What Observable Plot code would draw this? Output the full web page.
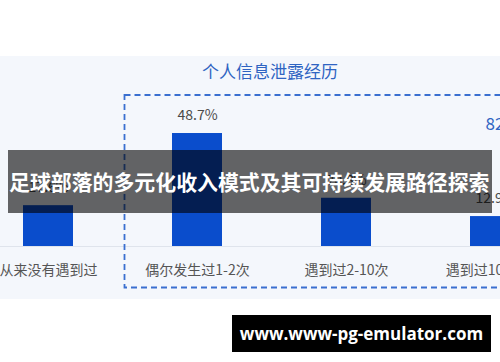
<!DOCTYPE html>
<html>
<head>
<meta charset="utf-8">
<script src="https://cdn.jsdelivr.net/npm/d3@7"></script>
<script src="https://cdn.jsdelivr.net/npm/@observablehq/plot@0.6"></script>
<style>
  html, body { margin: 0; padding: 0; background: #ffffff; }
  body { width: 500px; height: 362px; position: relative; overflow: hidden; font-family: "Noto Sans CJK SC", "Noto Sans", sans-serif; }
  #panel { position: absolute; left: 0; top: 56px; width: 500px; height: 243px; background: #f4f7fc; }
  #chart { position: absolute; left: 0; top: 0; }
  #title { position: absolute; left: 0; width: 540px; top: 60px; text-align: center; color: #2f64c2; font-size: 17px; line-height: 22px; }
  #banner { position: absolute; left: 8px; top: 150px; width: 484px; height: 63px; background: rgba(0,0,0,0.6); color: #fff; font-weight: bold; font-size: 20.9px; line-height: 63px; white-space: nowrap; overflow: hidden; text-align: left; padding-left: 1px; box-sizing: border-box; }
  #badge { position: absolute; left: 232px; top: 315px; width: 259px; height: 37px; background: #000; color: #fff; font-family: "Open Sans", "Noto Sans", sans-serif; font-weight: bold; font-size: 17px; line-height: 37px; text-align: center; white-space: nowrap; }
</style>
</head>
<body>
<div id="panel"></div>
<div id="title">个人信息泄露经历</div>
<div id="chart"></div>
<div id="banner">足球部落的多元化收入模式及其可持续发展路径探索</div>
<div id="badge">www.www-pg-emulator.com</div>
<script>
const categories = ["从来没有遇到过", "偶尔发生过1-2次", "遇到过2-10次", "遇到过10次以上"];
const values = [17.6, 48.7, 20.8, 12.9];
const groupTotalLabel = "82.4%";
const groupTotalCategory = "遇到过10次以上";

const data = categories.map((c, i) => ({cat: c, v: values[i]}));
const font = "'Noto Sans CJK SC', 'Noto Sans', sans-serif";

const plot = Plot.plot({
  width: 500,
  height: 362,
  margin: 0,
  style: {background: "transparent", fontFamily: font, overflow: "visible"},
  x: {type: "band", domain: categories, range: [-28, 571], paddingInner: 2/3, paddingOuter: 1/3, axis: null},
  y: {domain: [0, 50], range: [246, 130], axis: null},
  marks: [
    Plot.ruleY([0], {stroke: "#dfe4ec", strokeWidth: 1}),
    Plot.barY(data, {x: "cat", y: "v", fill: "#0a4dcc"}),
    Plot.text(data, {x: "cat", y: "v", text: d => d.v.toFixed(1) + "%", dy: -18, fill: "#4a4a4a", fontSize: 14}),
    Plot.text(categories, {x: d => d, y: () => 0, dy: 24, fill: "#555555", fontSize: 14}),
    Plot.text([{cat: groupTotalCategory, t: groupTotalLabel}], {x: "cat", text: "t", frameAnchor: "top", dy: 117, dx: -10, textAnchor: "start", fill: "#2f64c2", fontSize: 17})
  ]
});
document.getElementById("chart").appendChild(plot);

// dashed group box around categories 2-4, positioned from the x scale
const xs = plot.scale("x");
const bw = xs.bandwidth;
const leftEdge = (xs.apply(categories[0]) + bw + xs.apply(categories[1])) / 2;
d3.select(plot).append("rect")
  .attr("x", leftEdge + 2)
  .attr("y", 95)
  .attr("width", 500)
  .attr("height", 192.5)
  .attr("fill", "none")
  .attr("stroke", "#3a6fd0")
  .attr("stroke-width", 1.8)
  .attr("stroke-dasharray", "6 4");
</script>
</body>
</html>
